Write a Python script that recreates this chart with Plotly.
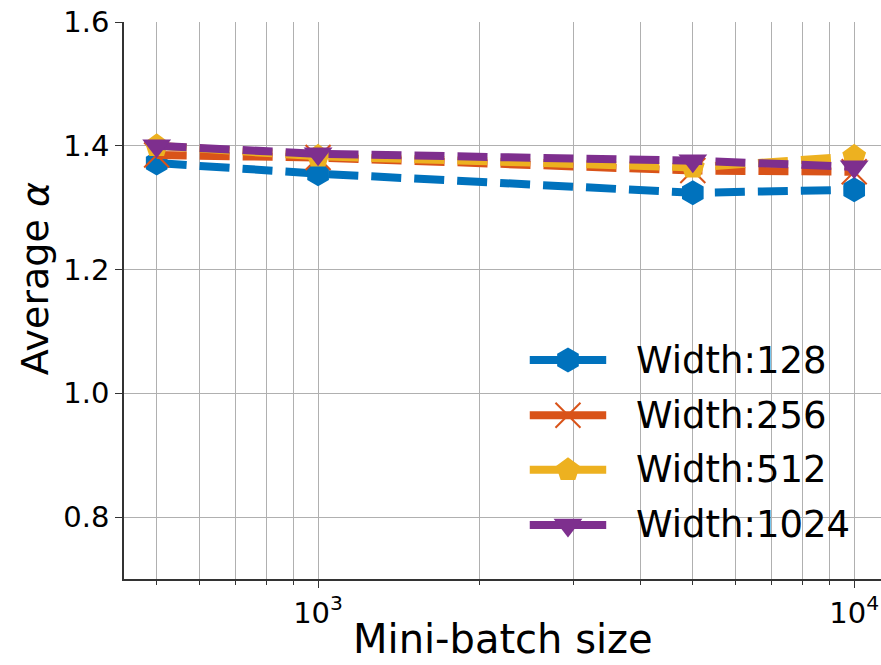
import plotly.graph_objects as go

# Mini-batch sizes and average alpha for each network width
batch_sizes = [500, 1000, 5000, 10000]
alpha_w128 = [1.372, 1.355, 1.324, 1.329]
alpha_w256 = [1.385, 1.381, 1.360, 1.358]
alpha_w512 = [1.400, 1.383, 1.365, 1.383]
alpha_w1024 = [1.400, 1.387, 1.376, 1.366]

series_names = ["Width:128", "Width:256", "Width:512", "Width:1024"]
series_values = [alpha_w128, alpha_w256, alpha_w512, alpha_w1024]
colors = ["#0072BD", "#D95319", "#EDB120", "#7E2F8E"]
symbols = ["hexagon", "x-thin", "pentagon", "triangle-down"]

y_ticks = [0.8, 1.0, 1.2, 1.4, 1.6]
x_ticks = [1000, 10000]
x_ticktext = ["10<sup>3</sup>", "10<sup>4</sup>"]
x_minor = [500, 600, 700, 800, 900, 2000, 3000, 4000,
           5000, 6000, 7000, 8000, 9000]


def marker_style(sym, col, size):
    if sym == "x-thin":
        return dict(symbol=sym, size=size, color=col, opacity=1,
                    line=dict(width=2, color=col))
    return dict(symbol=sym, size=size, color=col, opacity=1, line=dict(width=0))


fig = go.Figure()

for name, vals, col, sym in zip(series_names, series_values, colors, symbols):
    fig.add_trace(go.Scatter(
        x=batch_sizes, y=vals, mode="lines+markers", name=name,
        line=dict(color=col, width=8, dash="30px,13px"),
        marker=marker_style(sym, col, 25), showlegend=False,
    ))

# Legend drawn on a hidden unit overlay axis so the samples keep full-size markers
leg_x0, leg_x1, leg_text_x = 0.536, 0.637, 0.674
leg_rows = [0.393, 0.294, 0.196, 0.097]
for name, col, sym, ry in zip(series_names, colors, symbols, leg_rows):
    fig.add_trace(go.Scatter(
        x=[leg_x0, leg_x1], y=[ry, ry],
        xaxis="x2", yaxis="y2", mode="lines",
        line=dict(color=col, width=8),
        showlegend=False, hoverinfo="skip",
    ))
    fig.add_trace(go.Scatter(
        x=[(leg_x0 + leg_x1) / 2], y=[ry],
        xaxis="x2", yaxis="y2", mode="markers",
        marker=marker_style(sym, col, 25),
        showlegend=False, hoverinfo="skip",
    ))
    fig.add_annotation(
        x=leg_text_x, y=ry, xref="x2", yref="y2", text=name,
        showarrow=False, xanchor="left", yanchor="middle",
        font=dict(size=37, color="black"),
    )

# Axis titles
fig.add_annotation(
    x=0.5, y=-0.1077, xref="paper", yref="paper", text="Mini-batch size",
    showarrow=False, xanchor="center", yanchor="middle",
    font=dict(size=40, color="black"),
)
fig.add_annotation(
    x=-0.1176, y=0.540, xref="paper", yref="paper", text="Average <i>α</i>",
    showarrow=False, xanchor="center", yanchor="middle", textangle=-90,
    font=dict(size=38, color="black"),
)

grid_col = "#b0b0b0"
fig.update_layout(
    xaxis=dict(
        type="log", range=[2.638, 4.050],
        tickvals=x_ticks, ticktext=x_ticktext,
        ticks="outside", ticklen=7, tickwidth=1.2, tickcolor="#333",
        showline=True, linecolor="#333", linewidth=1.5,
        showgrid=True, gridcolor=grid_col, gridwidth=1,
        minor=dict(ticks="outside", ticklen=4, tickcolor="#333",
                   showgrid=True, gridcolor=grid_col, gridwidth=1,
                   tickvals=x_minor),
        tickfont=dict(size=29, color="black"),
        zeroline=False,
    ),
    yaxis=dict(
        range=[0.7, 1.6], tickvals=y_ticks, ticktext=[f"{v:.1f}" for v in y_ticks],
        ticks="outside", ticklen=7, tickwidth=1.2, tickcolor="#333",
        showline=True, linecolor="#333", linewidth=1.5,
        showgrid=True, gridcolor=grid_col, gridwidth=1,
        tickfont=dict(size=29, color="black"),
        zeroline=False,
    ),
    xaxis2=dict(overlaying="x", range=[0, 1], visible=False, fixedrange=True),
    yaxis2=dict(overlaying="y", range=[0, 1], visible=False, fixedrange=True),
    width=881, height=665,
    margin=dict(l=124, r=0, t=22, b=86),
    paper_bgcolor="white", plot_bgcolor="white",
    font=dict(family="DejaVu Sans", color="black"),
    showlegend=False,
)

fig.write_html("out.html")
